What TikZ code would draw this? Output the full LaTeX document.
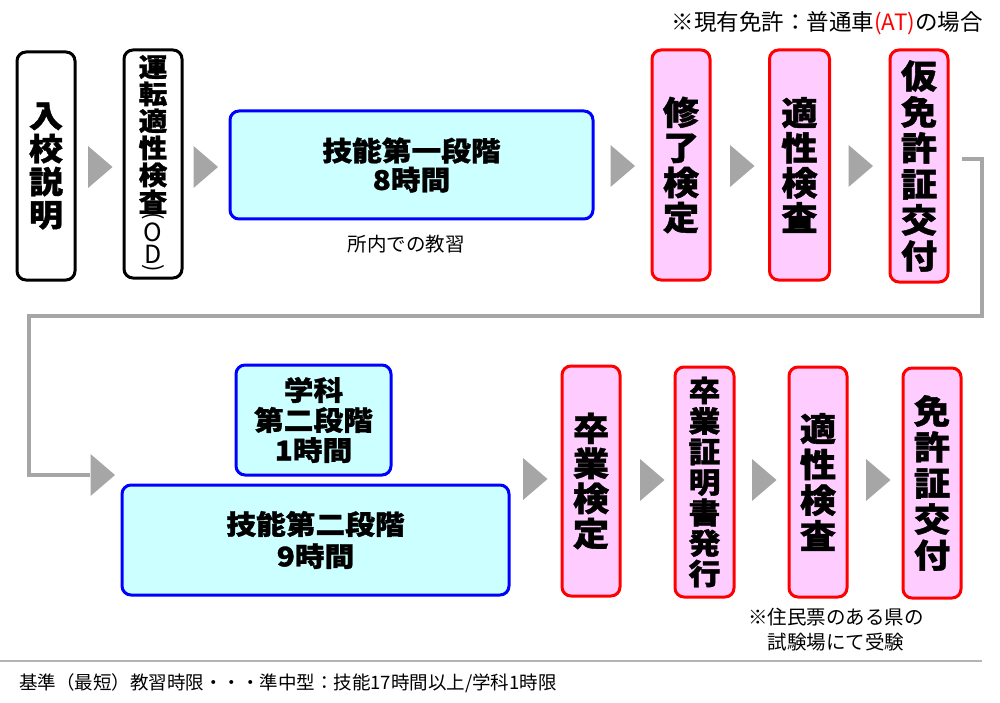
\documentclass[tikz,border=0pt]{standalone}
\usepackage{fontspec}
\newfontfamily\jp{Noto Sans CJK JP}
\newfontfamily\jpb[FakeStretch=1.1, BoldFeatures={FakeBold=1.2}]{Noto Sans CJK JP}
\definecolor{pinkf}{HTML}{FFCCFF}
\definecolor{cyanf}{HTML}{CCFFFF}
\definecolor{redb}{HTML}{FF0000}
\definecolor{blueb}{HTML}{0000FF}
\definecolor{arrowgray}{HTML}{A6A6A6}
\definecolor{sepgray}{HTML}{B4B4B4}
\newcommand\bsz[2]{\jpb\bfseries\fontsize{#1}{#2}\selectfont}
\newcommand\rsz[1]{\jp\fontsize{#1}{#1}\selectfont}
\newcommand\tri[2]{\fill[arrowgray] (#1,#2) ++(-12,-21) -- ++(24.5,21) -- ++(-24.5,21) -- cycle;}
\begin{document}
\begin{tikzpicture}[x=1pt,y=-1pt,
  boxbase/.style={line width=3pt, rounded corners=9pt, inner sep=0pt, align=center},
  bbox/.style={boxbase, draw=black, fill=white},
  pbox/.style={boxbase, draw=redb, fill=pinkf},
  cbox/.style={boxbase, draw=blueb, fill=cyanf},
  conn/.style={draw=arrowgray, line width=4pt},
  sepline/.style={draw=sepgray, line width=2pt},
  plain/.style={inner sep=0pt, align=center}]
\useasboundingbox (0,0) rectangle (1000,703);
\fill[white] (0,0) rectangle (1000,703);

% top note
\node[plain, anchor=east, font=\rsz{22.5}] (note1) at (983,23) {※現有免許：普通車\textcolor{redb}{(AT)}の場合};

% top row
\node[bbox, minimum width=58pt, minimum height=228pt, font=\bsz{31}{33}] (n1) at (46,166) {入\\校\\説\\明};
\node[bbox, minimum width=58pt, minimum height=228pt] (n2) at (153,164) {};
\node[plain, font=\bsz{26}{27}] (n2k) at (153,134.5) {運\\転\\適\\性\\検\\査};
\node[plain, font=\rsz{22}] (n2p1) at (153,218) {\rotatebox[origin=c]{-90}{(}};
\node[plain, font=\jp\fontsize{25}{22}\selectfont] (n2od) at (153,243) {O\\D};
\node[plain, font=\rsz{22}] (n2p2) at (153,270) {\rotatebox[origin=c]{-90}{)}};
\node[cbox, minimum width=363pt, minimum height=108pt, font=\bsz{27}{29}] (n3) at (411.5,165) {技能第一段階\\8時間};
\node[plain, font=\rsz{19.5}] (n3s) at (406,244) {所内での教習};
\node[pbox, minimum width=58pt, minimum height=230pt, font=\bsz{33}{35}] (n4) at (681,165) {修\\了\\検\\定};
\node[pbox, minimum width=60pt, minimum height=230pt, font=\bsz{33}{35}] (n5) at (799.5,165) {適\\性\\検\\査};
\node[pbox, minimum width=58pt, minimum height=232pt, font=\bsz{33}{36}] (n6) at (919,166) {仮\\免\\許\\証\\交\\付};

\tri{100}{167}
\tri{205.5}{167}
\tri{622.5}{166}
\tri{742}{166}
\tri{860.5}{166}

% connector
\coordinate (c0) at (962,159);
\coordinate (c5) at (90,475);
\draw[conn] (c0) -- (982,159) -- (982,316) -- (29,316) -- (29,475) -- (c5);
\tri{102.5}{475}

% bottom row
\node[cbox, minimum width=155pt, minimum height=110pt, font=\bsz{27}{30}] (m1) at (313.5,420) {学科\\第二段階\\1時間};
\node[cbox, minimum width=387pt, minimum height=110pt, font=\bsz{27}{32}] (m2) at (315.5,540) {技能第二段階\\9時間};
\node[pbox, minimum width=58pt, minimum height=230pt, font=\bsz{33}{35}] (m3) at (591,481) {卒\\業\\検\\定};
\node[pbox, minimum width=59pt, minimum height=230pt, font=\bsz{29}{30.5}] (m4) at (704.5,482) {卒\\業\\証\\明\\書\\発\\行};
\node[pbox, minimum width=58pt, minimum height=230pt, font=\bsz{33}{35.7}] (m5) at (818,482) {適\\性\\検\\査};
\node[pbox, minimum width=58pt, minimum height=230pt, font=\bsz{33}{36}] (m6) at (932,483) {免\\許\\証\\交\\付};

\tri{535}{479}
\tri{652}{480}
\tri{764}{480}
\tri{878}{480}

\node[plain, font=\jp\fontsize{19.5}{25}\selectfont] (note2) at (836,629.5) {※住民票のある県の\\試験場にて受験};

% footer
\coordinate (s0) at (0,661);
\coordinate (s1) at (982,661);
\draw[sepline] (s0) -- (s1);
\node[plain, anchor=west, font=\rsz{18.5}] (foot) at (19,683) {基準（最短）教習時限・・・準中型：技能17時間以上/学科1時限};
\end{tikzpicture}
\end{document}
